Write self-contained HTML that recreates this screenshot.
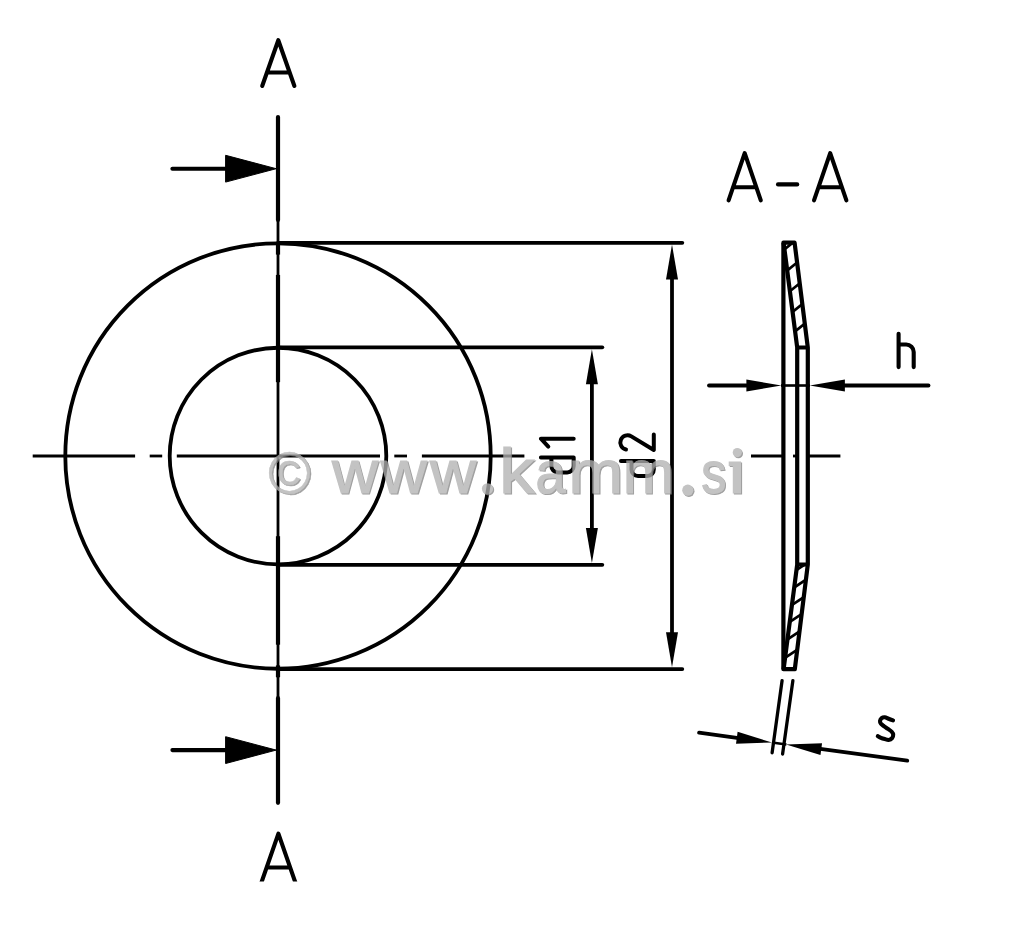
<!DOCTYPE html>
<html><head><meta charset="utf-8"><title>Disc spring drawing</title>
<style>
html,body{margin:0;padding:0;background:#fff;}
body{width:1024px;height:944px;overflow:hidden;font-family:"Liberation Sans",sans-serif;}
svg{display:block;}
</style></head>
<body>
<svg width="1024" height="944" viewBox="0 0 1024 944">
<rect width="1024" height="944" fill="#fff"/>
<g stroke="#000" stroke-width="2.80" fill="none" stroke-linecap="butt">
<path d="M32.7,456 H135.1"/>
<path d="M149.7,456 H162.2"/>
<path d="M176.8,456 H380.0"/>
<path d="M394.3,456 H407.0"/>
<path d="M421.9,456 H524.4"/>
<path d="M751.0,456 H783.3"/>
<path d="M793.0,456 H797.0"/>
<path d="M806.0,456 H840.4"/>
<path d="M278,221 V697"/>
</g>
<g stroke="#000" stroke-width="4.20" fill="none" stroke-linecap="round">
<path d="M278,117 V220"/>
<path d="M278,698 V802.8"/>
</g>
<g stroke="#000" stroke-width="4.20" fill="none" stroke-linecap="butt">
<path d="M278,242.3 V254.6"/>
<path d="M278,274.9 V382.2"/>
<path d="M278,536.2 V644.7"/>
<path d="M278,665.4 V677.3"/>
</g>
<g stroke="#000" stroke-width="3.80" fill="none" stroke-linecap="round">
<circle cx="278" cy="456.05" r="212.7"/>
<circle cx="278" cy="456.05" r="108.3"/>
<path d="M278,242.8 H682.3"/>
<path d="M278,669.1 H682.3"/>
<path d="M278,347.3 H602.3"/>
<path d="M278,564.8 H602.3"/>
<path d="M591.9,367.8 V544.4"/>
<path d="M672,263.4 V648.8"/>
</g>
<path d="M591.9,349.2 L585.9,384.2 L597.9,384.2 Z" fill="#000"/>
<path d="M591.9,562.9 L585.9,527.9 L597.9,527.9 Z" fill="#000"/>
<path d="M672.0,244.6 L666.0,279.6 L678.0,279.6 Z" fill="#000"/>
<path d="M672.0,667.3 L666.0,632.3 L678.0,632.3 Z" fill="#000"/>
<path d="M172.4,168.7 H230" stroke="#000" stroke-width="4.1" stroke-linecap="round" fill="none"/>
<path d="M225.6,155.3 L276.2,168.7 L225.6,182.1 Z" fill="#000" stroke="#000" stroke-width="1" stroke-linejoin="round"/>
<path d="M172.4,750.1 H230" stroke="#000" stroke-width="4.1" stroke-linecap="round" fill="none"/>
<path d="M225.6,736.7 L276.2,750.1 L225.6,763.5 Z" fill="#000" stroke="#000" stroke-width="1" stroke-linejoin="round"/>
<g stroke="#000" stroke-width="4.1" fill="none" stroke-linecap="round" stroke-linejoin="round">
<path d="M262.20,86.00 L278.30,40.20 L294.40,86.00 M266.95,72.50 H289.65"/>
<path d="M728.60,200.40 L744.70,153.20 L760.80,200.40 M733.10,187.20 H756.30"/>
<path d="M814.00,200.40 L830.20,153.20 L846.40,200.40 M818.53,187.20 H841.87"/>
<path d="M778,184.4 H797.2"/>
<path d="M898.6,333.8 V367.1 M898.6,344.5 H906.2 A7.5,7.5 0 0 1 913.7,352 V367.1"/>
<path d="M893.06,720.34 C892.32,720.08 889.99,719.26 888.61,718.75 C887.23,718.24 885.96,717.39 884.79,717.29 C883.62,717.18 882.40,717.50 881.61,718.12 C880.82,718.74 880.13,720.03 880.03,720.98 C879.92,721.93 880.29,722.94 880.98,723.84 C881.67,724.74 883.00,725.53 884.16,726.38 C885.32,727.23 886.70,728.03 887.97,728.93 C889.24,729.83 890.92,730.84 891.79,731.79 C892.66,732.74 893.14,733.59 893.19,734.65 C893.24,735.71 892.86,737.26 892.10,738.14 C891.34,739.02 889.83,739.76 888.61,739.92 C887.39,740.08 886.06,739.45 884.79,739.10 C883.52,738.75 882.14,738.33 880.98,737.83 C879.82,737.33 878.33,736.40 877.80,736.11"/>
</g>
<clipPath id="cA"><rect x="250" y="820" width="60" height="61.4"/></clipPath>
<g clip-path="url(#cA)" stroke="#000" stroke-width="4.1" fill="none" stroke-linecap="butt" stroke-linejoin="round">
<path d="M260.55,885.00 L278.40,833.60 L296.25,885.00 M266.63,867.50 H290.17"/>
</g>
<g stroke="#000" stroke-width="4.0" fill="none" stroke-linecap="round" stroke-linejoin="round">
<g transform="translate(573.7,457.4) rotate(-90)"><path d="M0,-32.8 V0 M0,-22.3 H-8.5 A6.5,6.5 0 0 0 -15,-15.8 V-6.5 A6.5,6.5 0 0 0 -8.5,0 H0"/><path d="M18.7,0 V-32.8 L10.8,-25.4"/></g>
<g transform="translate(653.8,461) rotate(-90)"><path d="M0,-32.8 V0 M0,-22.3 H-8.5 A6.5,6.5 0 0 0 -15,-15.8 V-6.5 A6.5,6.5 0 0 0 -8.5,0 H0"/><path transform="translate(11,0)" d="M0.5,-27.8 A7.2,7.2 0 1 1 13.65,-22.46 L0,0 H15.4"/></g>
</g>
<g stroke="#000" stroke-width="4.2" fill="none" stroke-linecap="butt" stroke-linejoin="round">
<path d="M783.4,669.2 V242.7 H794.6 L807.8,347.5 V564.5 L794.8,669.2 Z"/>
<path d="M783.6,242.7 L797.2,347.5 V564.5 L783.6,669.2"/>
<path d="M797.2,347.5 H807.8 M797.2,564.5 H807.8"/>
</g>
<clipPath id="hT"><path d="M783.6,242.7 L794.6,242.7 L807.8,347.5 L797.2,347.5 Z"/></clipPath>
<clipPath id="hB"><path d="M783.6,669.2 L794.8,669.2 L807.8,564.5 L797.2,564.5 Z"/></clipPath>
<g clip-path="url(#hT)" stroke="#000" stroke-width="2.7" fill="none">
<path d="M774.5,257.3 L804.5,233.3"/>
<path d="M777.2,278.5 L807.2,254.5"/>
<path d="M779.9,299.2 L809.9,275.2"/>
<path d="M782.6,319.9 L812.6,295.9"/>
<path d="M785.1,339.4 L815.1,315.4"/>
</g>
<g clip-path="url(#hB)" stroke="#000" stroke-width="2.7" fill="none">
<path d="M786.5,576.6 L816.5,556.8"/>
<path d="M784.2,594.0 L814.2,574.2"/>
<path d="M781.9,611.7 L811.9,591.9"/>
<path d="M779.7,628.6 L809.7,608.8"/>
<path d="M777.5,645.9 L807.5,626.1"/>
<path d="M775.1,664.4 L805.1,644.6"/>
</g>
<g stroke="#000" stroke-width="3.8" fill="none" stroke-linecap="round">
<path d="M709,385.5 H750"/>
<path d="M840,385.5 H928.5"/>
</g>
<path d="M781,385.5 H810" stroke="#000" stroke-width="2.6" fill="none"/>
<path d="M781.4,385.5 L746.4,379.5 L746.4,391.5 Z" fill="#000"/>
<path d="M809.8,385.5 L844.9,379.5 L844.9,391.5 Z" fill="#000"/>
<g stroke="#000" stroke-width="3.3" fill="none" stroke-linecap="round">
<path d="M782.1,680.6 L772.1,752.8"/>
<path d="M792.9,680.6 L782.6,754"/>
</g>
<g transform="translate(772,742.5) rotate(7.63)">
<path d="M-73.6,0 H-30" stroke="#000" stroke-width="3.8" stroke-linecap="round" fill="none"/>
<path d="M0,0 H14.5" stroke="#000" stroke-width="2.6" fill="none"/>
<path d="M0,0 L-35.5,-6 L-35.5,6 Z" fill="#000"/>
<path d="M14.2,0 L49.7,-6 L49.7,6 Z" fill="#000"/>
<path d="M45,0 H136.5" stroke="#000" stroke-width="3.8" stroke-linecap="round" fill="none"/>
</g>
<g font-family="Liberation Sans, sans-serif" font-size="61" stroke-width="1.2" stroke-linejoin="miter" opacity="0.77">
<text transform="translate(269.40,494.90) scale(0.9444,0.9674)" fill="#848484" stroke="#848484" stroke-width="0.5">©</text>
<text transform="translate(333.04,494.30) scale(1.0435,1.0062)" fill="#848484" stroke="#848484">w</text>
<text transform="translate(381.94,494.30) scale(1.0413,1.0062)" fill="#848484" stroke="#848484">w</text>
<text transform="translate(431.14,494.30) scale(1.0435,1.0062)" fill="#848484" stroke="#848484">w</text>
<text transform="translate(500.41,494.30) scale(1.1481,1.0386)" fill="#848484" stroke="#848484">k</text>
<text transform="translate(536.64,493.92) scale(0.8818,0.9794)" fill="#848484" stroke="#848484">a</text>
<text transform="translate(569.72,494.30) scale(1.0698,0.9909)" fill="#848484" stroke="#848484">m</text>
<text transform="translate(623.75,494.30) scale(1.0116,0.9909)" fill="#848484" stroke="#848484">m</text>
<text transform="translate(702.28,494.12) scale(0.8214,0.9765)" fill="#848484" stroke="#848484">s</text>
<circle cx="488.6" cy="489.9" r="5.6" fill="#848484"/>
<circle cx="688.9" cy="491.3" r="5.6" fill="#848484"/>
<circle cx="738.4" cy="453.7" r="4.6" fill="#848484"/>
<path d="M729.8,462.6 H742.1 V494.6 H733.9 V467.1 H729.8 Z" fill="#848484"/>
<text transform="translate(268.30,493.80) scale(0.9444,0.9674)" fill="#b2b2b2" stroke="#b2b2b2" stroke-width="0.5">©</text>
<text transform="translate(331.94,493.20) scale(1.0435,1.0062)" fill="#b2b2b2" stroke="#b2b2b2">w</text>
<text transform="translate(380.84,493.20) scale(1.0413,1.0062)" fill="#b2b2b2" stroke="#b2b2b2">w</text>
<text transform="translate(430.04,493.20) scale(1.0435,1.0062)" fill="#b2b2b2" stroke="#b2b2b2">w</text>
<text transform="translate(499.31,493.20) scale(1.1481,1.0386)" fill="#b2b2b2" stroke="#b2b2b2">k</text>
<text transform="translate(535.54,492.82) scale(0.8818,0.9794)" fill="#b2b2b2" stroke="#b2b2b2">a</text>
<text transform="translate(568.62,493.20) scale(1.0698,0.9909)" fill="#b2b2b2" stroke="#b2b2b2">m</text>
<text transform="translate(622.65,493.20) scale(1.0116,0.9909)" fill="#b2b2b2" stroke="#b2b2b2">m</text>
<text transform="translate(701.18,493.02) scale(0.8214,0.9765)" fill="#b2b2b2" stroke="#b2b2b2">s</text>
<circle cx="487.5" cy="488.8" r="5.6" fill="#b2b2b2"/>
<circle cx="687.8" cy="490.2" r="5.6" fill="#b2b2b2"/>
<circle cx="737.3" cy="452.6" r="4.6" fill="#b2b2b2"/>
<path d="M728.7,461.5 H741.0 V493.5 H732.8 V466.0 H728.7 Z" fill="#b2b2b2"/>
</g>
</svg>
</body></html>
